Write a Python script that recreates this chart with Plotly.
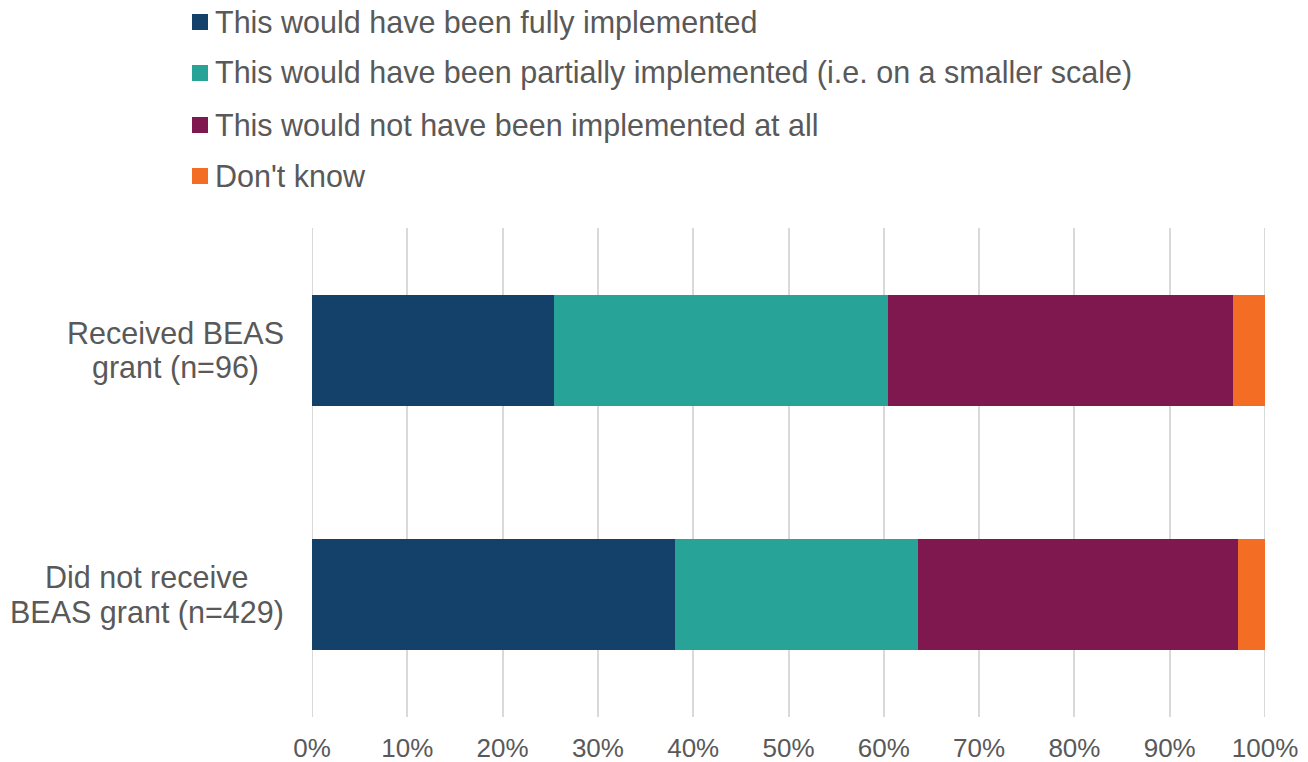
import plotly.graph_objects as go

categories = ["Received BEAS<br>grant (n=96)", "Did not receive<br>BEAS grant (n=429)"]
series_names = [
    "This would have been fully implemented",
    "This would have been partially implemented (i.e. on a smaller scale)",
    "This would not have been implemented at all",
    "Don't know",
]
fully = [25.4, 38.1]
partially = [35.0, 25.5]
not_at_all = [36.2, 33.6]
dont_know = [3.4, 2.8]
tick_vals = [0, 10, 20, 30, 40, 50, 60, 70, 80, 90, 100]
tick_text = [f"{v}%" for v in tick_vals]

colors = ["#134169", "#27A398", "#7F184F", "#F46D25"]
text_color = "#595959"
grid_color = "#d9d9d9"
FONT = "Liberation Sans, Arial, sans-serif"
LABEL_SIZE = 30.5

W, H = 1308, 762
M_L, M_R, M_T, M_B = 312, 43, 228, 45
plot_w = W - M_L - M_R
plot_h = H - M_T - M_B


def px_to_paper_x(px):
    return (px - M_L) / plot_w


def px_to_paper_y(py):
    return (H - M_B - py) / plot_h


fig = go.Figure()
for name, vals, col in zip(series_names, [fully, partially, not_at_all, dont_know], colors):
    fig.add_trace(go.Bar(
        y=categories, x=vals, name=name, orientation="h",
        marker=dict(color=col, line=dict(width=0)),
        showlegend=False,
    ))

# Category labels: each line as its own centred annotation for tighter leading
annotations = []
LINE_GAP = 35
label_right_px = M_L - 29
block_widths = {"Received BEAS<br>grant (n=96)": 216, "Did not receive<br>BEAS grant (n=429)": 273}
for cat in categories:
    lines = cat.split("<br>")
    n = len(lines)
    for i, line in enumerate(lines):
        annotations.append(dict(
            x=px_to_paper_x(label_right_px - block_widths[cat] / 2), xref="paper",
            y=cat, yref="y", xanchor="center", yanchor="middle",
            text=line, showarrow=False,
            yshift=((n - 1) / 2 - i) * LINE_GAP,
            font=dict(family=FONT, size=LABEL_SIZE, color=text_color),
        ))

# Edge gridlines at 0% and 100% (Plotly omits grid lines on the range bounds)
shapes = []
for xv in (tick_vals[0], tick_vals[-1]):
    shapes.append(dict(
        type="line", xref="x", yref="paper", x0=xv, x1=xv, y0=0, y1=1,
        line=dict(color=grid_color, width=2), layer="below",
    ))

# Legend block above the plot: square swatch + label per series
row_centers = [22, 73, 125, 176]
for name, col, yc in zip(series_names, colors, row_centers):
    shapes.append(dict(
        type="rect", xref="paper", yref="paper",
        x0=px_to_paper_x(192), x1=px_to_paper_x(208),
        y0=px_to_paper_y(yc + 8), y1=px_to_paper_y(yc - 8),
        fillcolor=col, line=dict(width=0), layer="above",
    ))
    annotations.append(dict(
        x=px_to_paper_x(213), xref="paper", y=px_to_paper_y(yc), yref="paper",
        xanchor="left", yanchor="middle", text=name, showarrow=False,
        font=dict(family=FONT, size=LABEL_SIZE, color=text_color),
    ))

fig.update_layout(
    barmode="stack",
    bargap=0.547,
    width=W, height=H,
    margin=dict(l=M_L, r=M_R, t=M_T, b=M_B),
    paper_bgcolor="white", plot_bgcolor="white",
    font=dict(family=FONT, size=26, color=text_color),
    showlegend=False,
    annotations=annotations,
    shapes=shapes,
    xaxis=dict(
        range=[0, 100], tickvals=tick_vals, ticktext=tick_text,
        showgrid=True, gridcolor=grid_color, gridwidth=2,
        zeroline=False, showline=False, ticks="", automargin=False,
        ticklabelstandoff=13,
        tickfont=dict(family=FONT, size=26, color=text_color),
    ),
    yaxis=dict(
        autorange="reversed", showgrid=False, showline=False, ticks="",
        showticklabels=False, automargin=False,
    ),
)

fig.write_html("out.html")
